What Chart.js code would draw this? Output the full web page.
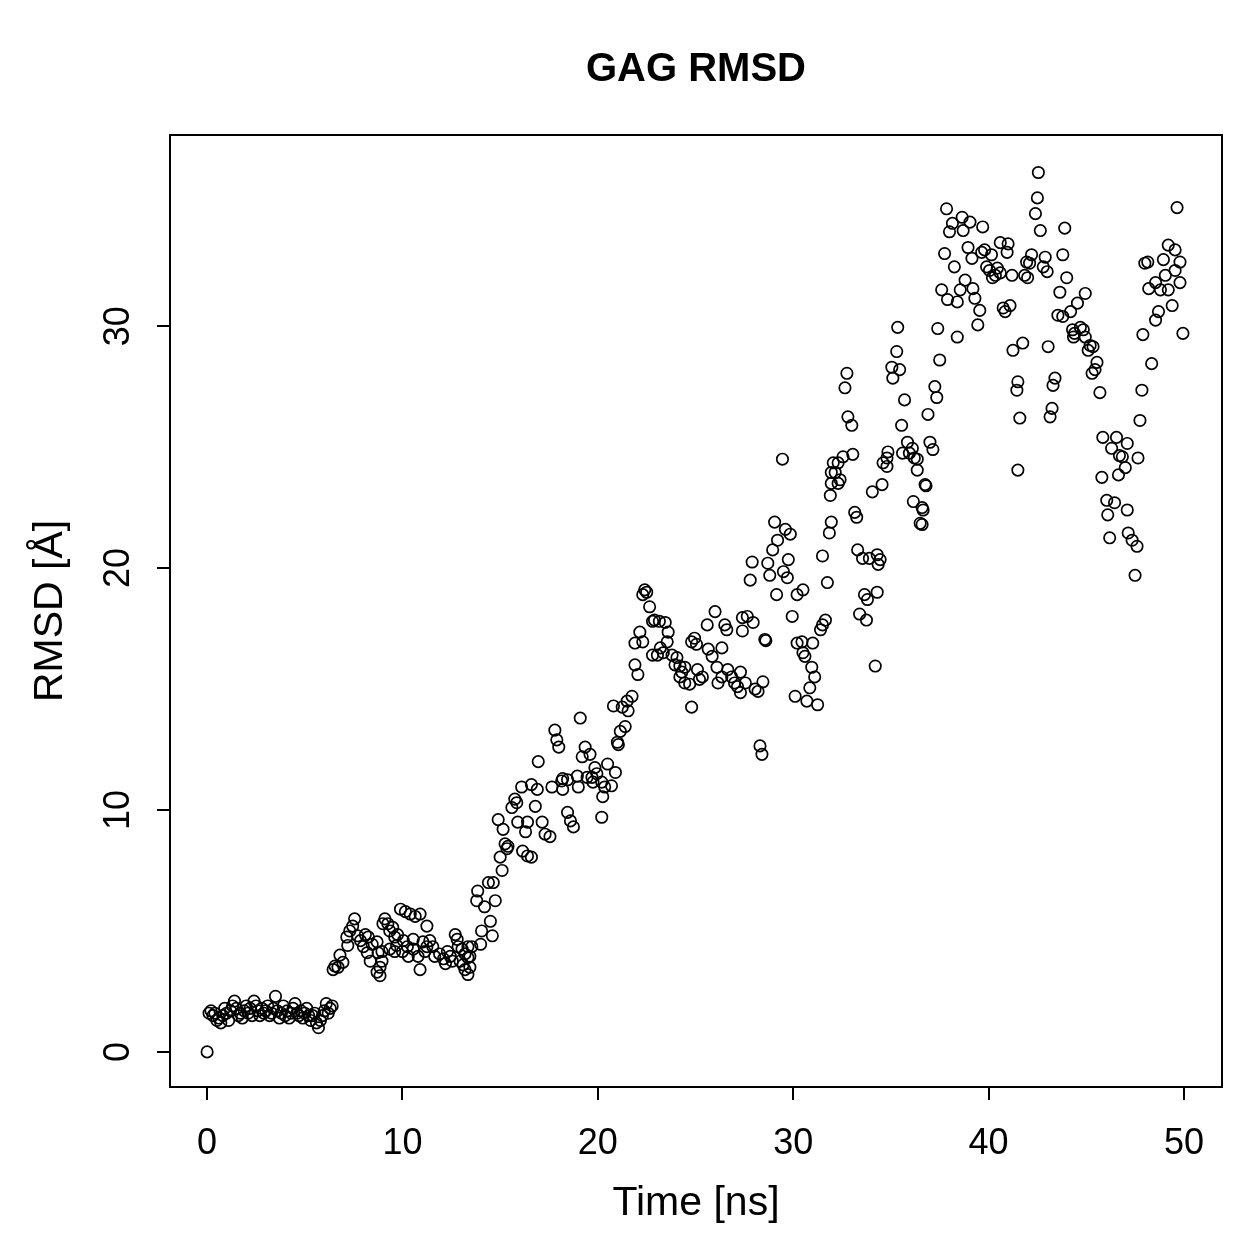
<!DOCTYPE html>
<html>
<head>
<meta charset="utf-8">
<script src="https://cdn.jsdelivr.net/npm/chart.js@4.4.1/dist/chart.umd.min.js"></script>
<style>
  html, body { margin: 0; padding: 0; background: #fff; }
  #wrap { width: 1259px; height: 1259px; }
</style>
</head>
<body>
<div id="wrap"><canvas id="chart" width="1259" height="1259"></canvas></div>
<script>
// [time ns, rmsd A], grouped by stretch of the run
const plateau = [
  [0,0],[0.1,1.6],[0.2,1.7],[0.3,1.5],[0.4,1.6],[0.5,1.3],[0.6,1.4],[0.7,1.2],[0.8,1.5],[0.9,1.8],
  [1.0,1.6],[1.1,1.3],[1.2,1.7],[1.3,1.9],[1.4,2.1],[1.5,1.8],[1.6,1.5],[1.7,1.6],[1.8,1.4],[1.9,1.7],
  [2.0,1.9],[2.1,1.6],[2.2,1.8],[2.3,1.5],[2.4,2.1],[2.5,1.9],[2.6,1.7],[2.7,1.5],[2.8,1.8],[2.9,1.6],
  [3.0,1.7],[3.1,1.9],[3.2,1.5],[3.3,1.6],[3.4,1.8],[3.5,2.3],[3.6,1.7],[3.7,1.4],[3.8,1.6],[3.9,1.9],
  [4.0,1.5],[4.1,1.7],[4.2,1.4],[4.3,1.6],[4.4,1.8],[4.5,2.0],[4.6,1.6],[4.7,1.5],[4.8,1.7],[4.9,1.4],
  [5.0,1.6],[5.1,1.8],[5.2,1.5],[5.3,1.3],[5.4,1.5],[5.5,1.6],[5.6,1.2],[5.7,1.0],[5.8,1.3],[5.9,1.5],
  [6.0,1.7],[6.1,2.0],[6.2,1.6],[6.3,1.8],[6.4,1.9]
];
const firstStep = [
  [6.45,3.4],[6.55,3.55],[6.7,3.5],[6.8,4.0],[6.95,3.7],[7.15,4.75],[7.2,4.4],[7.3,5.0],[7.45,5.2],[7.55,5.5],
  [7.7,4.8],[7.85,4.6],[8.0,4.35],[8.1,4.85],[8.2,4.1],[8.25,4.75],[8.35,3.75],[8.45,4.45],[8.7,4.55],[8.7,3.3],
  [8.75,4.1],[8.85,3.15],[8.95,3.75],[9.0,5.3],[8.95,4.15],[8.85,3.5],[9.1,5.5],[9.25,5.3],[9.35,5.0],[9.5,5.15],
  [9.6,4.75],[9.75,4.85],[9.35,4.25],[9.6,4.15],[9.7,4.4],[9.9,5.9],[10.0,4.15],[10.05,4.6],[10.15,5.8],[10.25,4.35],
  [10.3,3.95],[10.4,5.7],[10.55,4.65],[10.55,4.25],[10.65,5.6],[10.8,3.95],[10.9,5.7],[10.9,3.4],[11.05,4.55],[11.15,4.15],
  [11.25,5.2],[11.25,4.35],[11.4,4.6],[11.55,4.35],[11.65,3.95],[11.9,4.05],[12.1,3.85],[12.2,3.65],[12.3,4.15],[12.45,3.95],
  [12.55,3.75],[12.7,4.85],[12.8,4.65],[12.85,4.35],[12.95,3.75],[13.05,4.25],[13.1,3.6],[13.2,4.05],[13.2,3.4],[13.35,3.2],
  [13.35,4.35],[13.45,3.95],[13.55,4.35],[13.45,3.5],[13.35,3.9]
];
const climb = [
  [13.85,6.65],[13.8,6.25],[14.0,4.45],[14.05,5.0],[14.2,6.0],[14.4,7.0],[14.5,5.4],[14.6,4.8],[14.65,7.0],[14.75,6.25],
  [14.9,9.6],[15.0,8.05],[15.1,7.5],[15.15,9.2],[15.25,8.6],[15.35,8.4],[15.4,8.5],[15.6,10.1],[15.75,10.45],[15.85,10.3],
  [15.9,9.5],[16.1,10.95],[16.15,8.3],[16.3,9.1],[16.4,9.5],[16.4,8.1],[16.6,11.05],[16.6,8.05],[16.8,10.15],[16.9,10.85],
  [16.95,12.0],[17.15,9.5],[17.3,9.0],[17.55,8.9],[17.65,10.95],[17.8,13.3],[17.9,12.9],[18.0,12.6],[18.2,11.3],[18.2,10.85],
  [18.15,11.2],[18.45,11.25],[18.45,9.9],[18.6,9.55],[18.75,9.3],[18.95,11.4],[19.0,10.95],[19.1,13.8],[19.2,12.2],[19.35,12.6],
  [19.45,11.35],[19.6,12.3],[19.7,11.35],[19.75,11.15],[19.85,11.75],[19.95,11.5],[20.2,11.15],[20.2,9.7],[20.25,10.55],[20.35,10.95],
  [20.5,11.9],[20.7,11.0],[20.8,14.3],[20.9,11.55],[21.0,12.8],[21.05,12.7],[21.15,13.25],[21.25,14.25],[21.4,13.45],[21.5,14.5],
  [21.55,14.1],[21.75,14.7],[21.9,16.0],[21.9,16.9],[22.05,15.6],[22.15,17.35],[22.3,16.95],[22.3,18.9],[22.4,19.1],[22.5,19.0],
  [22.65,18.4],[22.8,17.8],[22.8,16.4]
];
const midPlateau = [
  [22.9,17.85],[23.15,17.8],[23.45,17.75],[23.6,17.35],[23.55,16.95],[23.2,16.7],[23.05,16.4],[23.35,16.5],[23.8,16.4],[24.05,16.3],
  [23.95,16.0],[24.2,15.95],[24.3,15.7],[24.45,15.9],[24.2,15.5],[24.45,15.25],[24.7,15.2],[24.8,16.95],[24.95,17.1],[25.05,16.85],
  [25.6,17.65],[26.0,18.2],[26.5,17.65],[26.6,17.45],[25.65,16.65],[25.85,16.35],[26.35,16.7],[25.1,15.8],[25.35,15.5],[25.2,15.4],
  [26.1,15.9],[26.35,15.5],[26.15,15.25],[26.65,15.8],[26.85,15.5],[27.0,15.25],[27.3,15.7],[27.3,14.85],[24.8,14.25],[27.4,17.95],
  [27.4,17.4],[27.65,18.0],[27.95,17.75],[27.55,15.25],[27.15,15.1],[28.05,15.0],[28.2,14.9],[28.45,15.3],[28.3,12.65],[28.4,12.3],
  [28.55,17.05],[28.6,17.0],[27.8,19.5],[27.9,20.25]
];
const scatterRise = [
  [29.45,24.5],[29.05,21.9],[29.6,21.6],[29.85,21.4],[29.2,21.15],[28.95,20.75],[28.7,20.2],[29.75,20.35],[28.8,19.7],[29.5,19.85],
  [29.7,19.6],[29.15,18.9],[30.2,18.9],[30.5,19.1],[29.95,18.0],[30.2,16.9],[30.45,16.95],[31.0,16.9],[30.5,16.5],[30.6,16.35],
  [30.95,15.9],[31.1,15.5],[30.85,15.05],[30.1,14.7],[30.7,14.5],[31.25,14.35],[31.5,20.5],[31.75,19.4],[31.65,17.85],[31.5,17.65],
  [31.4,17.45],[31.95,21.9],[31.85,21.45],[32.05,24.35],[31.95,23.95],[31.95,23.5],[31.9,23.0],
  [35.35,29.95],[35.3,28.95],[35.05,28.3],[35.45,28.2],[35.1,27.85],[35.7,26.95],[32.75,28.05],[32.65,27.45],[32.8,26.25],
  [33.0,25.9],[35.55,25.9],[35.85,25.2],[36.1,24.95],[35.6,24.75],[35.95,24.75],[36.2,24.55],[36.35,24.05],[34.85,24.8],[34.8,24.55],
  [34.6,24.35],[34.8,24.2],[33.05,24.7],[32.55,24.6],[32.3,24.35],[32.15,23.95],[32.4,23.65],[32.3,23.5],[34.55,23.45],[34.05,23.15],
  [33.15,22.3],[33.25,22.1],[36.15,22.75],[36.6,22.5],[36.5,21.85],[36.6,21.8],[33.3,20.75],[33.55,20.4],[33.9,20.4],[34.3,20.55],
  [34.45,20.35],[34.35,20.15],[33.65,18.9],[33.8,18.7],[34.3,19.0],[33.4,18.1],[33.75,17.85],[34.2,15.95]
];
const topBand = [
  [37.85,34.85],[38.65,34.5],[39.05,34.3],[38.15,34.25],[38.0,33.9],[38.7,33.95],[39.7,34.1],[40.6,33.45],[40.95,33.05],[40.15,32.95],
  [39.8,33.15],[39.65,33.05],[38.95,33.25],[39.15,32.8],[37.75,33.0],[38.25,32.45],[39.9,32.45],[40.05,32.3],[40.45,32.4],[40.35,32.1],
  [40.2,32.0],[40.6,32.2],[41.2,32.1],[38.8,31.9],[38.55,31.5],[39.2,31.55],[39.3,31.15],[37.6,31.5],[37.9,31.1],[38.4,31.0],
  [39.55,30.65],[39.45,30.05],[40.75,30.75],[40.85,30.6],[41.1,30.85],[37.4,29.9],[38.4,29.55],[37.5,28.6],[37.25,27.5],[37.35,27.05],
  [36.9,26.35],[37.0,25.2],[37.15,24.9],[36.35,24.5],[36.75,23.45],[36.8,23.4],[36.65,22.4],
  [42.55,36.35],[42.5,35.3],[42.4,34.65],[42.65,33.95],[43.9,34.05],[41.0,33.4],[42.2,32.95],[41.95,32.65],[42.1,32.6],[42.9,32.85],
  [42.8,32.45],[43.0,32.25],[43.8,32.95],[41.85,32.1],[42.0,32.0],[44.0,32.0],[43.65,31.4],[44.95,31.35],[44.55,30.95],[44.2,30.6],
  [43.55,30.45],[43.8,30.4],[44.3,29.85],[44.4,29.7],[44.7,29.95],[44.85,29.85],[44.35,29.55],[44.95,29.55],[45.2,29.2],[45.1,29.0],
  [45.35,29.15],[45.55,28.5],[45.45,28.2],[45.3,28.05],[45.7,27.25],[41.75,29.3],[41.25,29.0],[43.05,29.15],[41.5,27.7],[41.45,27.35],
  [43.4,27.85],[43.3,27.55],[43.25,26.6],[43.15,26.25],[41.6,26.2],[45.85,25.4],[41.5,24.05],[45.8,23.75]
];
const finalStretch = [
  [49.65,34.9],[49.2,33.35],[49.55,33.15],[49.8,32.65],[48.95,32.75],[48.15,32.65],[48.0,32.6],[49.55,32.3],[49.05,32.1],[48.55,31.8],
  [48.2,31.55],[48.8,31.5],[49.2,31.5],[49.8,31.8],[49.4,30.85],[48.7,30.6],[48.55,30.25],[47.9,29.65],[49.95,29.7],[48.35,28.45],
  [47.85,27.35],[47.75,26.1],[46.55,25.4],[47.1,25.15],[46.3,24.95],[46.7,24.65],[46.85,24.6],[47.65,24.55],[47.0,24.15],[46.65,23.85],
  [46.05,22.8],[46.45,22.7],[47.1,22.4],[46.1,22.2],[46.2,21.25],[47.15,21.45],[47.35,21.15],[47.6,20.9],[47.5,19.7]
];

const xTicks = [0, 10, 20, 30, 40, 50];
const yTicks = [0, 10, 20, 30];

const fontFamily = "'Liberation Sans', Arial, Helvetica, sans-serif";
Chart.defaults.font.family = fontFamily;
Chart.defaults.color = '#000';

const points = [...plateau, ...firstStep, ...climb, ...midPlateau, ...scatterRise, ...topBand, ...finalStretch]
  .map(([t, r]) => ({ x: t, y: r }));

// box around the plot plus the rotated y labels (R style)
const frame = {
  id: 'frame',
  afterDraw(chart) {
    const { ctx, chartArea: a } = chart;
    ctx.save();
    ctx.strokeStyle = '#000';
    ctx.lineWidth = 2;
    ctx.strokeRect(a.left, a.top, a.right - a.left, a.bottom - a.top);
    const y = chart.scales.y;
    ctx.fillStyle = '#000';
    ctx.font = '36px ' + fontFamily;
    ctx.textAlign = 'center';
    ctx.textBaseline = 'middle';
    yTicks.forEach(v => {
      ctx.save();
      ctx.translate(119, y.getPixelForValue(v));
      ctx.rotate(-Math.PI / 2);
      ctx.fillText(String(v), 0, 0);
      ctx.restore();
    });
    ctx.restore();
  }
};

new Chart(document.getElementById('chart'), {
  type: 'scatter',
  data: {
    datasets: [{
      data: points,
      pointRadius: 5.7,
      pointHoverRadius: 5.7,
      pointBorderWidth: 1.7,
      pointBorderColor: '#000',
      pointBackgroundColor: 'rgba(0,0,0,0)'
    }]
  },
  options: {
    responsive: false,
    animation: false,
    devicePixelRatio: 1,
    layout: { padding: { left: 0, right: 37, top: 0, bottom: 0 } },
    plugins: {
      legend: { display: false },
      tooltip: { enabled: false },
      title: {
        display: true,
        text: 'GAG RMSD',
        fullSize: false,
        color: '#000',
        font: { size: 40, weight: 'bold' },
        padding: { top: 46, bottom: 41 }
      }
    },
    scales: {
      x: {
        type: 'linear',
        min: -1.9,
        max: 51.95,
        afterBuildTicks: s => { s.ticks = xTicks.map(v => ({ value: v })); },
        afterFit: s => { s.height = 172; },
        ticks: { font: { size: 36 }, padding: 22, color: '#000' },
        grid: { drawOnChartArea: false, drawTicks: true, tickLength: 13, color: '#000', lineWidth: 2 },
        border: { display: true, color: '#000', width: 2 },
        title: { display: true, text: 'Time [ns]', font: { size: 41 }, padding: { top: 0, bottom: 31 } }
      },
      y: {
        type: 'linear',
        min: -1.45,
        max: 37.9,
        afterBuildTicks: s => { s.ticks = yTicks.map(v => ({ value: v })); },
        afterFit: s => { s.width = 170; },
        ticks: { display: false },
        grid: { drawOnChartArea: false, drawTicks: true, tickLength: 13, color: '#000', lineWidth: 2 },
        border: { display: true, color: '#000', width: 2 },
        title: { display: true, text: 'RMSD [Å]', font: { size: 41 }, padding: { top: 26, bottom: 0 } }
      }
    }
  },
  plugins: [frame]
});
</script>
</body>
</html>
